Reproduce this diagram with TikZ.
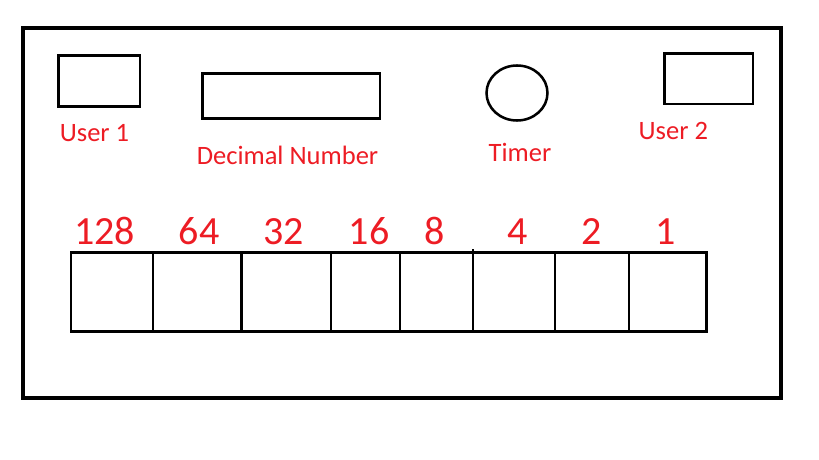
\documentclass[tikz,border=0pt]{standalone}
\usepackage{fontspec}
\setmainfont{Carlito}
\usepackage{tikz}
\usetikzlibrary{positioning, shapes.geometric}

\definecolor{paintred}{RGB}{237,28,36}

\tikzset{
	panel/.style={draw, line width=3.4pt, inner sep=0pt, outer sep=0pt},
	slot/.style={draw, line width=2pt, inner sep=0pt, outer sep=0pt},
	bitcell/.style={draw, line width=2.1pt, inner sep=0pt, outer sep=0pt, anchor=north west, minimum height=59.25pt},
	caption/.style={text=paintred, anchor=base, inner sep=0pt, font=\fontsize{19.9}{21}\selectfont},
	weight/.style={text=paintred, anchor=base, inner sep=0pt, font=\fontsize{30}{32}\selectfont}
}

\begin{document}
\begin{tikzpicture}[x=0.75pt, y=-0.75pt]
	\useasboundingbox (0,0) rectangle (819,460);
	
	% outer frame
	\node[panel, minimum width=568.5pt, minimum height=277.5pt] (frame) at (402,213) {};
	
	% top row
	\node[slot, minimum width=61pt, minimum height=38.25pt] (user1) at (99.3,81.2) {};
	\node[slot, minimum width=133pt, minimum height=33.75pt] (decimal) at (291.3,96.2) {};
	\node[slot, ellipse, line width=1.9pt, minimum width=45.75pt, minimum height=41.25pt] (timer) at (517,93) {};
	\node[slot, minimum width=66.2pt, minimum height=37.7pt] (user2) at (708.8,78.8) {};
	
	\node[caption] (user1label) at (94.5,142) {User 1};
	\node[caption] (decimallabel) at (287.5,165) {Decimal Number};
	\node[caption] (timerlabel) at (520,161.5) {Timer};
	\node[caption] (user2label) at (673.3,140) {User 2};
	
	% bit cells
	\foreach \l/\r/\tx/\val [count=\i] in {71/153/104.5/128, 153/241.5/199/64, 241.5/331/283.6/32, 331/400/369/16, 400/473/435/8, 473/555/518/4, 555/629/592/2, 629/706.5/666/1}
	{
		\node[bitcell, minimum width={(\r-\l)*0.75pt}] (cell\i) at (\l,252.5) {};
		\node[weight] (weight\i) at (\tx,244) {\val};
	}
	\draw[line width=1pt] (cell5.north east) -- ++(0,-3);
\end{tikzpicture}
\end{document}
